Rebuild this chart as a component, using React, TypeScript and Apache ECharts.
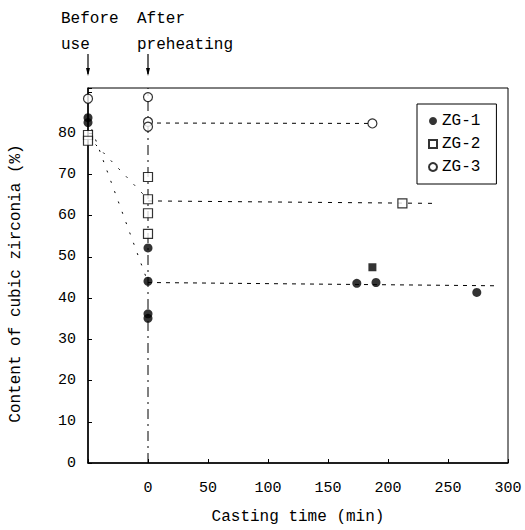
import React, { useEffect, useRef } from "react";
import * as echarts from "echarts";

const FONT = "Liberation Mono";

const xTickHidden = [-50];
const yTickShown = [0, 10, 20, 30, 40, 50, 60, 70, 80];

const zg1Points: number[][] = [
  [-50, 83.8], [-50, 82.6],
  [0, 52.2], [0, 44.1], [0, 36.2], [0, 35.1],
  [174, 43.6], [190, 43.8], [274, 41.4],
];
const zg1SquarePoints: number[][] = [[187, 47.5]];
const zg2Points: number[][] = [
  [-50, 79.6], [-50, 78.2],
  [0, 69.4], [0, 64.0], [0, 60.6], [0, 55.6],
  [212, 63.0],
];
const zg3Points: number[][] = [
  [-50, 88.4], [0, 88.8], [0, 82.8], [0, 81.6], [187, 82.4],
];

const zg1Diagonal: number[][] = [[-50, 83.5], [0, 43.8]];
const zg1Level: number[][] = [[0, 43.8], [292, 43.0]];
const zg2Diagonal: number[][] = [[-50, 79.2], [0, 64.0]];
const zg2Level: number[][] = [[0, 63.6], [240, 63.0]];
const zg3Level: number[][] = [[0, 82.5], [187, 82.4]];
const preheatMarker: number[][] = [[0, 0], [0, 91]];

export default function App() {
  const ref = useRef<HTMLDivElement>(null);
  useEffect(() => {
    if (!ref.current) return;
    const chart = echarts.init(ref.current, null, { renderer: "svg" });
    const lineSeries = (data: number[][], type: any, width = 1) => ({
      type: "line",
      data,
      symbol: "none",
      silent: true,
      lineStyle: { color: "#000", width, type },
      z: 1,
    });
    chart.setOption({
      animation: false,
      backgroundColor: "#fff",
      textStyle: { fontFamily: FONT, color: "#000" },
      grid: {
        left: 88, right: 17, top: 88, bottom: 66,
        show: true, borderColor: "#000", borderWidth: 1, backgroundColor: "transparent",
      },
      xAxis: {
        type: "value", min: -50, max: 300, interval: 50,
        name: "Casting time (min)", nameLocation: "middle", nameGap: 46,
        nameTextStyle: { fontFamily: FONT, fontSize: 16, color: "#000" },
        axisLine: { show: true, onZero: false, lineStyle: { color: "#000", width: 1.5 } },
        axisTick: { show: true, inside: true, length: 4, lineStyle: { color: "#000" } },
        axisLabel: {
          fontFamily: FONT, fontSize: 15, color: "#000", margin: 18,
          formatter: (v: number) => (xTickHidden.includes(v) ? "" : String(v)),
        },
        splitLine: { show: false },
      },
      yAxis: {
        type: "value", min: 0, max: 91, interval: 10,
        name: "Content of cubic zirconia (%)", nameLocation: "middle", nameGap: 64,
        nameTextStyle: { fontFamily: FONT, fontSize: 16, color: "#000", padding: [0, 0, 0, -16] },
        axisLine: { show: true, onZero: false, lineStyle: { color: "#000", width: 1.5 } },
        axisTick: { show: true, inside: true, length: 4, lineStyle: { color: "#000" } },
        axisLabel: {
          fontFamily: FONT, fontSize: 15, color: "#000", margin: 12,
          formatter: (v: number) => (yTickShown.includes(v) ? String(v) : ""),
        },
        splitLine: { show: false },
      },
      legend: {
        orient: "vertical", left: 417, top: 104,
        padding: [9, 16, 9, 11],
        itemWidth: 8, itemHeight: 8, itemGap: 7,
        borderColor: "#000", borderWidth: 1, backgroundColor: "#fff",
        textStyle: { fontFamily: FONT, fontSize: 16, color: "#000" },
        data: ["ZG-1", "ZG-2", "ZG-3"],
      },
      series: [
        lineSeries(zg1Diagonal, [2, 9]),
        lineSeries(zg1Level, [4, 5]),
        lineSeries(zg2Diagonal, [2, 9]),
        lineSeries(zg2Level, [4, 6]),
        lineSeries(zg3Level, [4, 5]),
        lineSeries(preheatMarker, [10, 5, 2, 5]),
        {
          name: "ZG-1", type: "scatter", data: zg1Points, symbol: "circle", symbolSize: 9,
          clip: false, itemStyle: { color: "#000" }, z: 3,
        },
        {
          name: "ZG-1 extra", type: "scatter", data: zg1SquarePoints, symbol: "rect", symbolSize: 8,
          clip: false, itemStyle: { color: "#000" }, z: 3,
        },
        {
          name: "ZG-2", type: "scatter", data: zg2Points, symbol: "rect", symbolSize: 9,
          clip: false, itemStyle: { color: "#fff", borderColor: "#000", borderWidth: 1.2 }, z: 3,
        },
        {
          name: "ZG-3", type: "scatter", data: zg3Points, symbol: "circle", symbolSize: 9,
          clip: false, itemStyle: { color: "#fff", borderColor: "#000", borderWidth: 1.2 }, z: 4,
        },
      ],
    });

    const xb = chart.convertToPixel({ xAxisIndex: 0 }, -50) as number;
    const xa = chart.convertToPixel({ xAxisIndex: 0 }, 0) as number;
    const arrow = (x: number) => [
      { type: "line", shape: { x1: x, y1: 54, x2: x, y2: 74 }, style: { stroke: "#000", lineWidth: 1.2 } },
      { type: "polygon", shape: { points: [[x - 2, 68], [x + 2, 68], [x, 76]] }, style: { fill: "#000" } },
    ];
    chart.setOption({
      graphic: [
        {
          type: "text", left: xb - 27, top: 6,
          style: { text: "Before\nuse", font: `16px "${FONT}"`, lineHeight: 26, fill: "#000" },
        },
        {
          type: "text", left: xa - 11, top: 6,
          style: { text: "After\npreheating", font: `16px "${FONT}"`, lineHeight: 26, fill: "#000" },
        },
        ...arrow(xb),
        ...arrow(xa),
      ],
    });
    return () => chart.dispose();
  }, []);
  return <div ref={ref} style={{ width: 525, height: 530, position: "absolute", left: 0, top: 0 }} />;
}
